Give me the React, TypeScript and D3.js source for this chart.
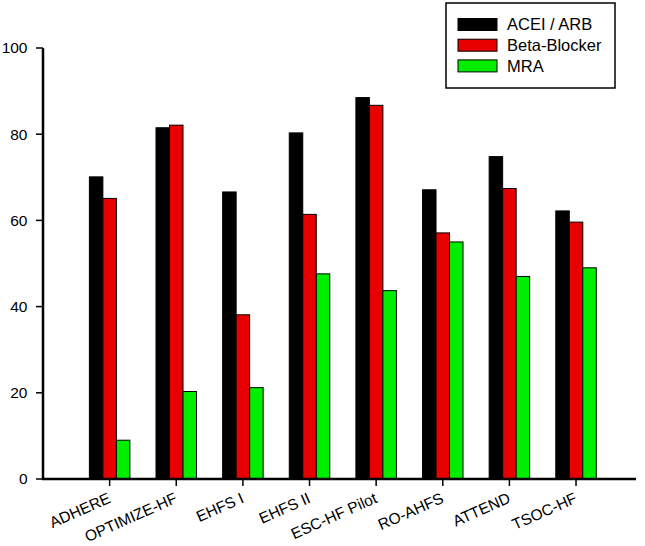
import React from "react";
import * as d3 from "d3";

const categories = ["ADHERE", "OPTIMIZE-HF", "EHFS I", "EHFS II", "ESC-HF Pilot", "RO-AHFS", "ATTEND", "TSOC-HF"];
const seriesNames = ["ACEI / ARB", "Beta-Blocker", "MRA"];
const aceiArb = [70.1, 81.5, 66.6, 80.3, 88.5, 67.1, 74.8, 62.2];
const betaBlocker = [65.1, 82.1, 38.1, 61.4, 86.7, 57.1, 67.4, 59.6];
const mra = [9.0, 20.3, 21.2, 47.6, 43.7, 55.0, 47.0, 49.0];
const yTicks = [0, 20, 40, 60, 80, 100];
const colors = ["#000000", "#e80000", "#00ee00"];

export default function App() {
  const W = 645, H = 546;
  const x0 = 43, yBottom = 479, yTop = 48;
  const y = d3.scaleLinear().domain([0, 100]).range([yBottom, yTop]);
  const x = d3.scaleLinear().domain([0, 8.9]).range([x0, 636]);
  const barW = 13.5;
  const series = [aceiArb, betaBlocker, mra];
  const font = "Arial, 'Liberation Sans', sans-serif";

  return (
    <svg width={W} height={H} style={{ position: "absolute", left: 0, top: 0, background: "#fff" }} fontFamily={font}>
      {series.map((vals, s) =>
        vals.map((v, i) => {
          const cx = x(i + 1);
          const left = cx + (s - 1) * barW - barW / 2;
          return (
            <rect key={`${s}-${i}`} x={left} y={y(v)} width={barW} height={yBottom - y(v)}
              fill={colors[s]} stroke="#000" strokeWidth={1} />
          );
        })
      )}
      {/* y axis */}
      <line x1={x0} x2={x0} y1={yTop} y2={yBottom + 1} stroke="#000" strokeWidth={2.5} />
      {yTicks.map((t) => (
        <g key={t}>
          <line x1={x0 - 7} x2={x0} y1={y(t)} y2={y(t)} stroke="#000" strokeWidth={1.5} />
          <text x={27.5} y={y(t)} dy="0.35em" textAnchor="end" fontSize={15.5}>{t}</text>
        </g>
      ))}
      {/* x axis */}
      <line x1={x0 - 1} x2={636} y1={yBottom} y2={yBottom} stroke="#000" strokeWidth={2.5} />
      {categories.map((c, i) => (
        <g key={c}>
          <line x1={x(i + 1)} x2={x(i + 1)} y1={yBottom} y2={yBottom + 7} stroke="#000" strokeWidth={1.5} />
          <text transform={`translate(${x(i + 1) + 2},${yBottom + 23}) rotate(-24)`} textAnchor="end" fontSize={15.5}>{c}</text>
        </g>
      ))}
      {/* legend */}
      <rect x={446} y={3} width={169} height={85} fill="#fff" stroke="#000" strokeWidth={1.5} />
      {seriesNames.map((n, s) => (
        <g key={n}>
          <rect x={458} y={18.5 + s * 20.7} width={39} height={12} fill={colors[s]} stroke="#000" strokeWidth={1} />
          <text x={507} y={24.5 + s * 20.7} dy="0.35em" fontSize={16.5}>{n}</text>
        </g>
      ))}
    </svg>
  );
}
